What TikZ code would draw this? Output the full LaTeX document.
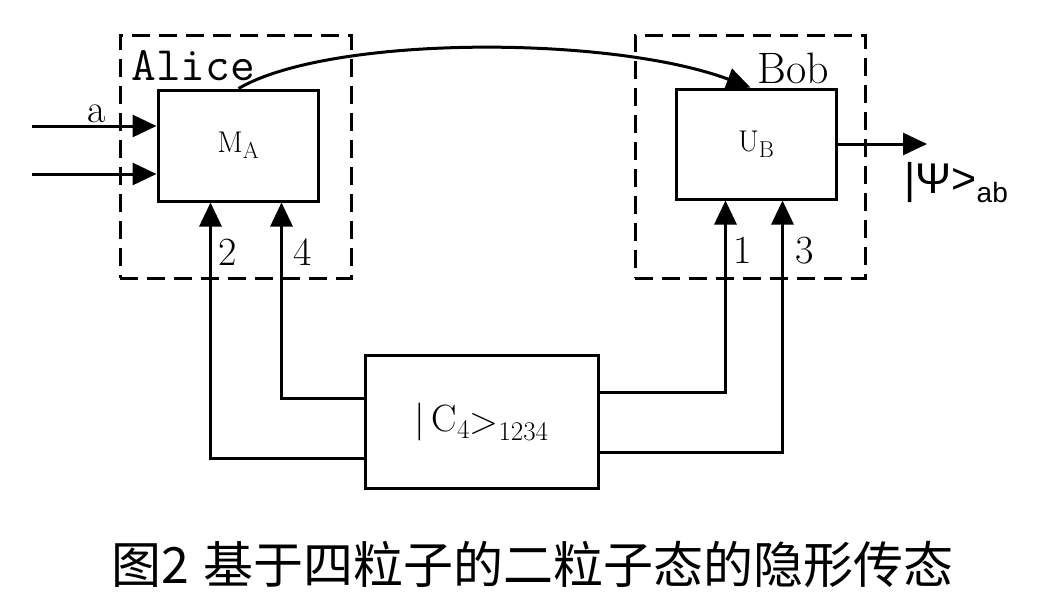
\documentclass[tikz,border=0pt]{standalone}
\usepackage{fontspec}
\newfontfamily\cjk{Noto Sans CJK SC}
\newfontfamily\psans{Liberation Sans}
\usetikzlibrary{arrows.meta,calc}
\newcommand\lowsub[3]{\raisebox{-#2pt}{\fontsize{#1}{#1}\selectfont #3}}
\begin{document}
\begin{tikzpicture}[x=1pt,y=-1pt,line width=3pt,
  blk/.style={draw,line width=3pt,inner sep=0pt},
  grp/.style={draw,line width=3pt,dash pattern=on 18pt off 9pt,inner sep=0pt},
  arr/.style={-{Triangle[length=24pt,width=22pt]},line width=3pt},
  lbl/.style={font=\fontsize{40}{40}\selectfont,inner sep=0pt,anchor=base}]
\useasboundingbox (0,0) rectangle (1047,611);
\fill[white] (0,0) rectangle (1047,611);
% group boxes
\node[grp,minimum width=231pt,minimum height=243pt] (alicebox) at (235.5,156.5) {};
\node[grp,minimum width=230pt,minimum height=243pt] (bobbox) at (750,156.5) {};
% blocks
\node[blk,minimum width=160pt,minimum height=111pt] (MA) at (238,145.5)
  {\fontsize{30}{30}\selectfont M\lowsub{23}{6}{A}};
\node[blk,minimum width=160pt,minimum height=110pt] (UB) at (756,144)
  {\fontsize{30}{30}\selectfont U\lowsub{23}{6}{B}};
\node[blk,minimum width=233pt,minimum height=133pt] (C4) at (481.5,421.5)
  {\fontsize{38}{38}\selectfont|\,C\lowsub{27}{7}{4}\raisebox{-2pt}{>}\lowsub{27}{9}{1234}};
% labels
\node[anchor=base west,inner sep=0pt,font=\fontsize{48}{48}\selectfont\ttfamily] (alice) at (130,80) {Alice};
\node[anchor=base west,inner sep=0pt,font=\fontsize{44}{44}\selectfont] (bob) at (756,83) {Bob};
\node[lbl] (la) at (97,122) {a};
\node[lbl] (l2) at (228,265) {2};
\node[lbl] (l4) at (303,265) {4};
\node[lbl] (l1) at (743,263) {1};
\node[lbl] (l3) at (805,263) {3};
\node[anchor=base west,inner sep=0pt] (psi) at (903,193)
  {\psans\fontsize{43}{43}\selectfont|Ψ>\lowsub{28}{9}{ab}};
% inputs and output
\coordinate (i1) at (32,126);
\coordinate (i2) at (32,174);
\coordinate (o) at (927,144);
\draw[arr] (i1) -- (i1 -| MA.west);
\draw[arr] (i2) -- (i2 -| MA.west);
\draw[arr] (UB.east) -- (o);
% classical channel
\draw[arr] ($(MA.north west)+(82,0)$) .. controls (330,35) and (610,35) .. ($(UB.north west)+(76,0)$);
% particle lines
\draw[arr] ($(C4.west)+(0,-23.5)$) -| ($(MA.south west)+(125,0)$);
\draw[arr] ($(C4.west)+(0,36.5)$) -| ($(MA.south west)+(54,0)$);
\draw[arr] ($(C4.east)+(0,-29.5)$) -| ($(UB.south west)+(51,0)$);
\draw[arr] ($(C4.east)+(0,30.5)$) -| ($(UB.south west)+(108,0)$);
% caption
\node[anchor=base west,inner sep=0pt,font=\cjk\fontsize{50}{50}\selectfont] (cap) at (110,583)
  {图2\hspace{14pt}基于四粒子的二粒子态的隐形传态};
\end{tikzpicture}
\end{document}
